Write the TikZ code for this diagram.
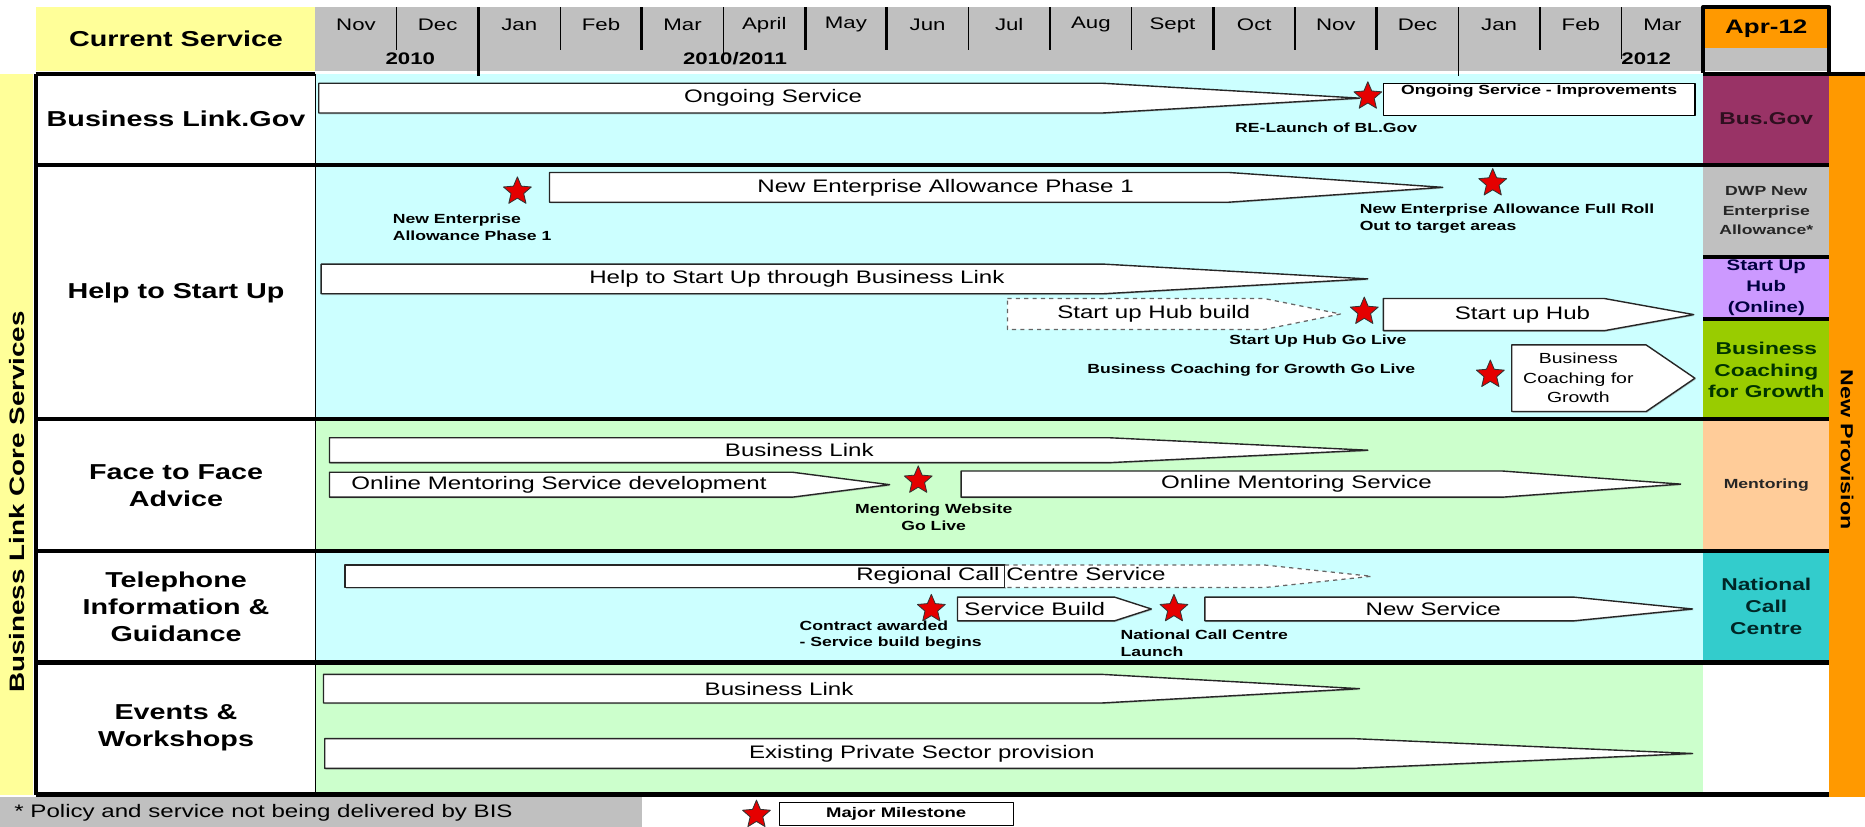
\documentclass[tikz,border=0pt]{standalone}
\usepackage{fontspec}
\setmainfont[FakeStretch=1.33]{Liberation Sans}
\usetikzlibrary{shapes.geometric,shadows}

\definecolor{hdryellow}{HTML}{FFFF99}
\definecolor{hdrgray}{HTML}{C0C0C0}
\definecolor{rowcyan}{HTML}{CCFFFF}
\definecolor{rowgreen}{HTML}{CCFFCC}
\definecolor{provorange}{HTML}{FF9900}
\definecolor{busgov}{HTML}{993366}
\definecolor{hubpurple}{HTML}{CC99FF}
\definecolor{coachgreen}{HTML}{99CC00}
\definecolor{mentorpeach}{HTML}{FFCC99}
\definecolor{callteal}{HTML}{33CCCC}

% bar with a long point: [style]{name}{x left}{x taper}{x tip}{y top}{y bottom}{x text}{text}
\newcommand{\timebar}[9][barbox]{%
  \draw[#1] (#3,#6) -- (#4,#6) -- (#5,{(#6+#7)/2}) -- (#4,#7) -- (#3,#7) -- cycle;
  \node[bartext] (#2) at (#8,{(#6+#7)/2}) {#9};}

\begin{document}
\begin{tikzpicture}[x=0.3mm, y=-0.3mm, line join=round,
    sepline/.style={line width=3pt},
    thinrule/.style={line width=0.8pt},
    thickrule/.style={line width=2pt},
    monthlbl/.style={font=\fontsize{12}{14}\selectfont},
    yearlbl/.style={font=\bfseries\fontsize{12}{14}\selectfont},
    rowlbl/.style={align=center, font=\bfseries\fontsize{15.5}{19.5}\selectfont},
    provlbl/.style={align=center, text=black!85, font=\bfseries\fontsize{12.3}{15.7}\selectfont},
    barbox/.style={draw=black!85, fill=white, line width=1pt,
      drop shadow={shadow xshift=0.6pt, shadow yshift=-0.9pt, opacity=0.4}},
    planbox/.style={draw=black!60, fill=white, line width=0.9pt, dashed},
    bartext/.style={font=\fontsize{13}{14}\selectfont, align=center, inner sep=0pt},
    miletext/.style={font=\bfseries\fontsize{9.5}{12}\selectfont, inner sep=0pt},
    mstar/.style={star, star points=5, star point ratio=2.2, fill=red!90!black,
      draw=black!80, line width=0.6pt, minimum size=21pt, inner sep=0pt}]
  \useasboundingbox (0,0) rectangle (1568,695);

  % header
  \fill[hdryellow] (30,6) rectangle (265,60);
  \fill[hdrgray] (265,6) rectangle (1432,60);
  \fill[hdrgray] (1432,40) rectangle (1538,60);
  \fill[provorange] (1432,6) rectangle (1538,40);
  % side strips
  \fill[hdryellow] (0,62) rectangle (28,668);
  \fill[provorange] (1538,62) rectangle (1568,670);
  % timeline rows
  \fill[rowcyan] (265,62) rectangle (1432,352);
  \fill[rowgreen] (265,352) rectangle (1432,463);
  \fill[rowcyan] (265,463) rectangle (1432,557);
  \fill[rowgreen] (265,557) rectangle (1432,668);
  % new provision column
  \fill[busgov] (1432,62) rectangle (1538,139);
  \fill[hdrgray] (1432,139) rectangle (1538,216);
  \fill[hubpurple] (1432,216) rectangle (1538,268);
  \fill[coachgreen] (1432,268) rectangle (1538,352);
  \fill[mentorpeach] (1432,352) rectangle (1538,463);
  \fill[callteal] (1432,463) rectangle (1538,557);
  % footer
  \fill[hdrgray] (0,670) rectangle (540,695);

  % month rules
  \draw[thinrule] (333.6,6) -- (333.6,42);
  \draw[thickrule] (402.3,6) -- (402.3,64);
  \draw[thinrule] (470.9,6) -- (470.9,42);
  \draw[thickrule] (539.6,6) -- (539.6,42);
  \draw[thinrule] (608.2,6) -- (608.2,50);
  \draw[thickrule] (676.9,6) -- (676.9,42);
  \draw[thickrule] (745.5,6) -- (745.5,42);
  \draw[thinrule] (814.2,6) -- (814.2,42);
  \draw[thickrule] (882.8,6) -- (882.8,42);
  \draw[thinrule] (951.5,6) -- (951.5,42);
  \draw[thickrule] (1020.1,6) -- (1020.1,42);
  \draw[thinrule] (1088.8,6) -- (1088.8,42);
  \draw[thickrule] (1157.4,6) -- (1157.4,42);
  \draw[thinrule] (1226.1,6) -- (1226.1,64);
  \draw[thickrule] (1294.7,6) -- (1294.7,42);
  \draw[thinrule] (1363.4,6) -- (1363.4,50);

  % months
  \node[monthlbl] (mNov10) at (299.3,21) {Nov};
  \node[monthlbl] (mDec10) at (368,21) {Dec};
  \node[monthlbl] (mJan11) at (436.6,21) {Jan};
  \node[monthlbl] (mFeb11) at (505.3,21) {Feb};
  \node[monthlbl] (mMar11) at (573.9,21) {Mar};
  \node[monthlbl] (mApr11) at (642.6,21) {April};
  \node[monthlbl] (mMay11) at (711.2,21) {May};
  \node[monthlbl] (mJun11) at (779.9,21) {Jun};
  \node[monthlbl] (mJul11) at (848.5,21) {Jul};
  \node[monthlbl] (mAug11) at (917.2,21) {Aug};
  \node[monthlbl] (mSep11) at (985.8,21) {Sept};
  \node[monthlbl] (mOct11) at (1054.5,21) {Oct};
  \node[monthlbl] (mNov11) at (1123.1,21) {Nov};
  \node[monthlbl] (mDec11) at (1191.8,21) {Dec};
  \node[monthlbl] (mJan12) at (1260.4,21) {Jan};
  \node[monthlbl] (mFeb12) at (1329.1,21) {Feb};
  \node[monthlbl] (mMar12) at (1397.7,21) {Mar};
  % years
  \node[yearlbl] (y2010) at (345,49) {2010};
  \node[yearlbl] (y1011) at (618,49) {2010/2011};
  \node[yearlbl] (y2012) at (1384,49) {2012};
  \node[font=\bfseries\fontsize{15.5}{18}\selectfont] (current) at (148,33) {Current Service};
  \node[font=\bfseries\fontsize{14}{16}\selectfont] (apr12) at (1485,24) {Apr-12};
  \draw[line width=3pt] (1432,61) -- (1432,6) -- (1538,6) -- (1538,61);

  % row frames
  \draw[sepline] (30,62) -- (265,62);
  \draw[sepline] (1432,62) -- (1568,62);
  \draw[sepline] (30,62) -- (30,668);
  \draw[line width=1pt] (265,62) -- (265,668);
  \draw[sepline] (30,139) -- (1538,139);
  \draw[sepline] (1432,216) -- (1538,216);
  \draw[sepline] (1432,268) -- (1538,268);
  \draw[sepline] (30,352) -- (1538,352);
  \draw[sepline] (30,463) -- (1538,463);
  \draw[sepline] (30,557) -- (1538,557);
  \draw[sepline] (30,668) -- (1538,668);

  % row labels
  \node[rowlbl] (blgov) at (148,100) {Business Link.Gov};
  \node[rowlbl] (startup) at (148,246) {Help to Start Up};
  \node[rowlbl] (face) at (148,408) {Face to Face\\Advice};
  \node[rowlbl] (phone) at (148,510) {Telephone\\Information \&\\Guidance};
  \node[rowlbl] (events) at (148,612) {Events \&\\Workshops};
  \node[rotate=90, font=\bfseries\fontsize{15}{17}\selectfont] (core) at (14,422) {Business Link Core Services};
  \node[rotate=-90, font=\bfseries\fontsize{12.5}{15}\selectfont] (newprov) at (1553,378) {New Provision};

  % Business Link.Gov
  \timebar{ongoing}{268}{927}{1143}{70}{95}{650}{Ongoing Service}
  \node[mstar] (relaunch) at (1150,81) {};
  \draw[line width=1pt, fill=white] (1163,70) rectangle (1425,97);
  \node[miletext] (improve) at (1294,77) {Ongoing Service - Improvements};
  \node[miletext] (relaunchtxt) at (1115,107) {RE-Launch of BL.Gov};

  % Help to Start Up
  \node[mstar] (nea) at (435,161) {};
  \node[miletext, anchor=west, align=left] (neatxt) at (330,191) {New Enterprise\\Allowance Phase 1};
  \timebar{neabar}{462}{1033}{1213}{145}{170}{795}{New Enterprise Allowance Phase 1}
  \node[mstar] (neafull) at (1255,154) {};
  \node[miletext, anchor=west, align=left] (neafulltxt) at (1143,184) {New Enterprise Allowance Full Roll\\Out to target areas};
  \timebar{htsu}{270}{927}{1150}{222}{247}{670}{Help to Start Up through Business Link}
  \timebar[planbox]{hubbuild}{847}{1063}{1127}{251}{277}{970}{Start up Hub build}
  \node[mstar] (hublive) at (1147,262) {};
  \timebar{hub}{1163}{1349}{1424}{251}{278}{1280}{Start up Hub}
  \node[miletext] (hublivetxt) at (1108,287) {Start Up Hub Go Live};
  \node[miletext] (bcglivetxt) at (1052,311) {Business Coaching for Growth Go Live};
  \node[mstar] (bcglive) at (1253,315) {};
  \draw[barbox] (1271,290) -- (1384,290) -- (1425,318) -- (1384,346) -- (1271,346) -- cycle;
  \node[bartext, font=\fontsize{10.5}{14}\selectfont] (bcg) at (1327,318) {Business\\Coaching for\\Growth};

  % Face to Face Advice
  \timebar{f2fbl}{277}{932}{1150}{368}{389}{672}{Business Link}
  \timebar{mentordev}{277}{666}{748}{397}{418}{470}{Online Mentoring Service development}
  \node[mstar] (mentorlive) at (772,404) {};
  \node[miletext, align=center] (mentorlivetxt) at (785,435) {Mentoring Website\\Go Live};
  \timebar{mentor}{808}{1263}{1413}{396}{418}{1090}{Online Mentoring Service}

  % Telephone Information & Guidance
  \draw[barbox] (290,475) rectangle (845,494);
  \draw[planbox] (845,475) -- (1063,475) -- (1153,484.5) -- (1063,494) -- (845,494);
  \node[bartext] (regional) at (850,484.5) {Regional Call Centre Service};
  \node[mstar] (contract) at (783,512) {};
  \node[miletext, anchor=west, align=left] (contracttxt) at (672,534) {Contract awarded\\- Service build begins};
  \timebar{build}{805}{937}{968}{502}{522}{870}{Service Build}
  \node[mstar] (ncclaunch) at (987,512) {};
  \node[miletext, anchor=west, align=left] (ncclaunchtxt) at (942,541) {National Call Centre\\Launch};
  \timebar{newservice}{1013}{1323}{1423}{502}{522}{1205}{New Service}

  % Events & Workshops
  \timebar{evbl}{272}{927}{1143}{567}{591}{655}{Business Link}
  \timebar{private}{273}{1138}{1423}{621}{646}{775}{Existing Private Sector provision}

  % new provision
  \node[provlbl, text=busgov!30!black] (busgovtxt) at (1485,100) {Bus.Gov};
  \node[provlbl, font=\bfseries\fontsize{9.5}{14}\selectfont] (dwp) at (1485,177) {DWP New\\Enterprise\\Allowance*};
  \node[provlbl, font=\bfseries\fontsize{11}{15}\selectfont, text=blue!25!black] (hubonline) at (1485,242) {Start Up\\Hub\\(Online)};
  \node[provlbl, text=green!20!black] (bcgprov) at (1485,311) {Business\\Coaching\\for Growth};
  \node[provlbl, font=\bfseries\fontsize{9.5}{12}\selectfont] (mentoring) at (1485,408) {Mentoring};
  \node[provlbl, text=teal!30!black] (ncc) at (1485,510) {National\\Call\\Centre};

  % footer
  \node[anchor=west, font=\fontsize{13}{15}\selectfont] (policy) at (8,683) {* Policy and service not being delivered by BIS};
  \node[mstar] (legendstar) at (636,685) {};
  \node[draw, fill=white, line width=0.8pt, minimum width=59.1mm, minimum height=5.7mm,
    font=\bfseries\fontsize{10}{12}\selectfont] (legend) at (753.5,684.5) {Major Milestone};
\end{tikzpicture}
\end{document}
